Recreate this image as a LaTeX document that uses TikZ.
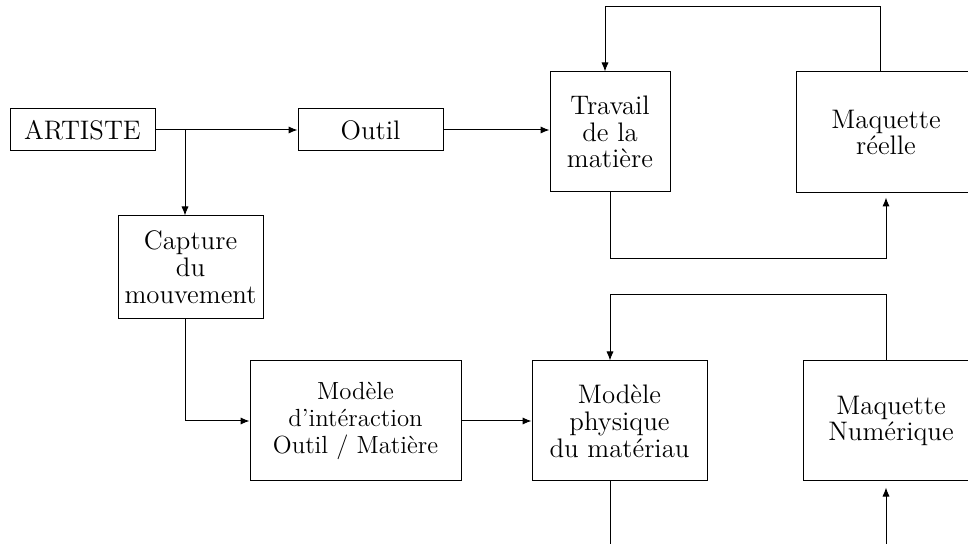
\documentclass[tikz,border=0pt]{standalone}
\usetikzlibrary{arrows.meta}
\begin{document}
\begin{tikzpicture}[x=0.5pt,y=-0.5pt,
  box/.style={draw,line width=0.5pt,inner sep=0pt,align=center,font=\fontsize{13.4}{13.4}\selectfont},
  conn/.style={line width=0.5pt},
  arr/.style={conn,-{Latex[length=4.5pt,width=3.6pt]}}]
\clip (0,0) rectangle (968,544);
\useasboundingbox (0,0) rectangle (968,544);
\node[box,minimum width=72.5pt,minimum height=21pt] (artiste) at (82.5,130) {ARTISTE};
\node[box,minimum width=72.5pt,minimum height=21pt] (outil) at (370.5,130) {Outil};
\node[box,minimum width=60pt,minimum height=60pt] (travail) at (610,132) {Travail\\de la\\matière};
\node[box,minimum width=90pt,minimum height=60.5pt] (reelle) at (886,132.5) {Maquette\\réelle};
\node[box,minimum width=72.5pt,minimum height=51.5pt] (capture) at (190.5,267.5) {Capture\\du\\mouvement};
\node[box,minimum width=105.5pt,minimum height=60pt,font=\fontsize{12.4}{13.6}\selectfont] (inter) at (355.5,421) {Modèle\\d'intéraction\\Outil / Matière};
\node[box,minimum width=87.5pt,minimum height=60pt] (physique) at (619.5,421) {Modèle\\physique\\du matériau};
\node[box,minimum width=88pt,minimum height=60pt] (numerique) at (891,421) {Maquette\\Numérique};
% connectors
\coordinate (br) at (185,130);
\draw[arr] (artiste.east) -- (outil.west);
\draw[arr] (br) -- (br |- capture.north);
\draw[arr] (outil.east) -- (outil.east -| travail.west);
\draw[arr] (travail.south) -- ++(0,66) -| ([yshift=-2pt]reelle.south);
\draw[arr] ([xshift=-3pt]reelle.north) -- ++(0,-65) -| ([xshift=-2.5pt]travail.north);
\draw[arr] (capture.south -| br) |- (inter.west);
\draw[arr] (inter.east) -- (physique.west);
\draw[arr] ([xshift=-2.5pt]numerique.north) -- ++(0,-66) -| ([xshift=-4.75pt]physique.north);
\coordinate (pend) at (610,560);
\coordinate (nend) at (886,560);
\draw[conn] ([xshift=-4.75pt]physique.south) -- (pend);
\draw[arr] (nend) -- ([xshift=-2.5pt,yshift=-3pt]numerique.south);
\end{tikzpicture}
\end{document}
